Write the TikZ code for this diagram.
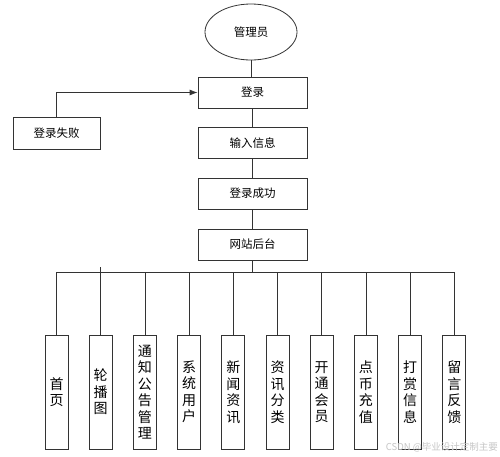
\documentclass[tikz,border=0pt]{standalone}
\usepackage{fontspec}
\setmainfont{Noto Sans CJK SC}
\usetikzlibrary{shapes.geometric,arrows.meta}
\definecolor{linec}{HTML}{333333}
\begin{document}
\begin{tikzpicture}[x=1pt,y=-1pt,
  conn/.style={draw=linec, line width=0.8pt},
  topbox/.style={draw=linec, line width=0.8pt, minimum width=109pt, minimum height=31pt, inner sep=0pt, font=\fontsize{11.5}{13}\selectfont},
  leafbox/.style={draw=linec, line width=0.8pt, minimum width=23pt, minimum height=114pt, inner sep=0pt, align=center, font=\fontsize{14}{16.5}\selectfont}]
\useasboundingbox (0,0) rectangle (500,456);
\fill[white] (0,0) rectangle (500,456);
\node[ellipse, draw=linec, line width=0.8pt, minimum width=92pt, minimum height=56pt, inner sep=0pt, font=\fontsize{11.5}{13}\selectfont] (admin) at (251,32) {管理员};
\node[topbox] (login) at (252.5,92.5) {登录};
\node[topbox] (input) at (252.5,143) {输入信息};
\node[topbox] (ok) at (252.5,193.5) {登录成功};
\node[topbox] (site) at (252.5,244.5) {网站后台};
\node[topbox, minimum width=87pt, minimum height=32pt] (fail) at (56.5,133) {登录失败};
\coordinate (busL) at (56.5,272);
\coordinate (busR) at (454.3,272);
\coordinate (busM) at (252.5,272);
\draw[conn] (admin.south) -- (admin.south |- login.north);
\draw[conn] (login) -- (input);
\draw[conn] (input) -- (ok);
\draw[conn] (ok) -- (site);
\draw[conn] (site.south) -- (busM);
\draw[conn] (busL) -- (busR);
\draw[conn, -{Latex[length=8pt,width=6pt]}] (fail.north) -- (fail.north |- login.west) -- (login.west);
\foreach \t [count=\i from 0] in {{首\\页},{轮\\播\\图},{通\\知\\公\\告\\管\\理},{系\\统\\用\\户},{新\\闻\\资\\讯},{资\\讯\\分\\类},{开\\通\\会\\员},{点\\币\\充\\值},{打\\赏\\信\\息},{留\\言\\反\\馈}} {
  \node[leafbox] (leaf\i) at (56.5+44.2*\i,392) {\t};
  \draw[conn] (leaf\i.north |- busL) -- (leaf\i.north);
}
\draw[conn] (leaf1.north |- 0,267) -- (leaf1.north |- busL);
\node[text=gray!45, font=\fontsize{9.5}{10}\selectfont, anchor=east, inner sep=0pt] (wm) at (498,447) {CSDN @毕业设计定制主要};
\end{tikzpicture}
\end{document}
